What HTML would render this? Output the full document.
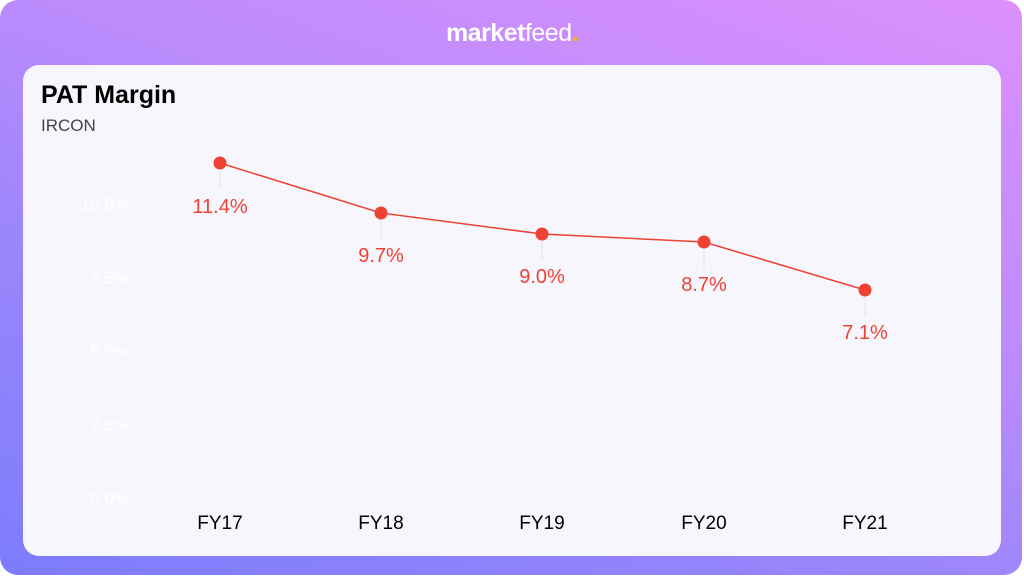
<!DOCTYPE html>
<html><head><meta charset="utf-8"><style>
html,body{margin:0;padding:0;background:#fff;width:1024px;height:576px;overflow:hidden}
.outer{position:absolute;left:0;top:0;width:1022px;height:575px;border-radius:18px;background:linear-gradient(200deg,#dc90fd 0%,#bf8cfc 35%,#9a86fb 65%,#7c7cfd 100%)}
.logo{position:absolute;top:19px;left:0;width:1024px;text-align:center;color:#fff;font-family:"Liberation Sans",sans-serif;font-size:25px;font-weight:bold;letter-spacing:-0.5px}
.logo span{font-weight:normal}
.logo i{color:#f5b800;font-style:normal}
.card{position:absolute;left:23px;top:65px;width:978px;height:491px;border-radius:16px;background:#f8f6fd}
.title{position:absolute;left:41px;top:81px;font-family:"Liberation Sans",sans-serif;font-weight:bold;font-size:25px;color:#000}
.sub{position:absolute;left:41px;top:116px;font-family:"Liberation Sans",sans-serif;font-size:17px;color:#444}
svg{position:absolute;left:0;top:0}
</style></head><body>
<div class="outer"></div>
<div class="logo">market<span>feed</span><i>.</i></div>
<div class="card"></div>
<div class="title">PAT Margin</div>
<div class="sub">IRCON</div>
<svg width="1024" height="576" font-family="Liberation Sans, sans-serif">
<g fill="#ffffff" font-size="17" text-anchor="end">
<text x="129" y="210">10.0%</text>
<text x="129" y="284">7.5%</text>
<text x="129" y="357">5.0%</text>
<text x="129" y="431">2.5%</text>
<text x="129" y="504">0.0%</text>
</g>
<g stroke="#e4e0ea" stroke-width="1">
<line x1="220" y1="170" x2="220" y2="188"/><line x1="381" y1="220" x2="381" y2="238"/><line x1="542" y1="241" x2="542" y2="259"/><line x1="704" y1="250" x2="704" y2="268"/><line x1="865" y1="297" x2="865" y2="315"/>
</g>
<polyline points="220,163 381,213 542,234 704,242 865,290" fill="none" stroke="#ee4233" stroke-width="1.5"/>
<g fill="#ee4233">
<circle cx="220" cy="163" r="6.5"/><circle cx="381" cy="213" r="6.5"/><circle cx="542" cy="234" r="6.5"/><circle cx="704" cy="242" r="6.5"/><circle cx="865" cy="290" r="6.5"/>
</g>
<g fill="#ee4233" font-size="20" text-anchor="middle">
<text x="220" y="213">11.4%</text><text x="381" y="262">9.7%</text><text x="542" y="283">9.0%</text><text x="704" y="291">8.7%</text><text x="865" y="339">7.1%</text>
</g>
<g fill="#000" font-size="19" text-anchor="middle">
<text x="220" y="529">FY17</text><text x="381" y="529">FY18</text><text x="542" y="529">FY19</text><text x="704" y="529">FY20</text><text x="865" y="529">FY21</text>
</g>
</svg>
</body></html>
